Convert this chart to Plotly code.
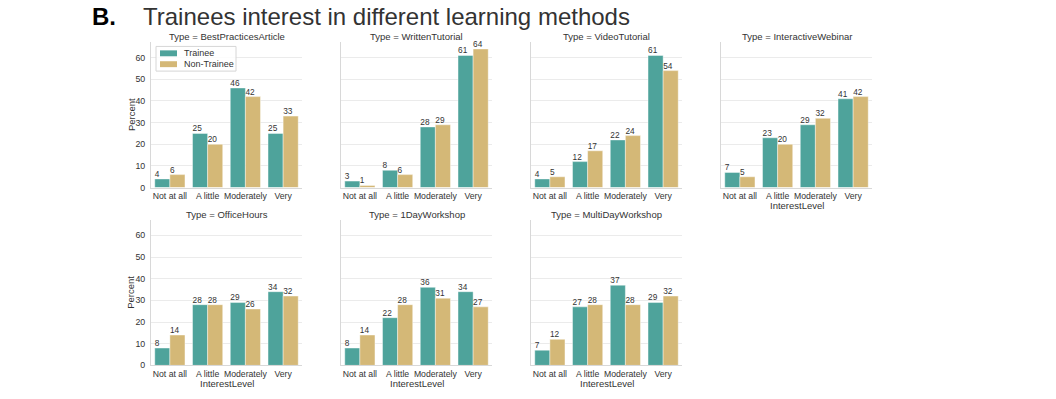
import plotly.graph_objects as go

W, H = 1056, 399

levels = ["Not at all", "A little", "Moderately", "Very"]
types = ["BestPracticesArticle", "WrittenTutorial", "VideoTutorial", "InteractiveWebinar",
         "OfficeHours", "1DayWorkshop", "MultiDayWorkshop"]

trainee = {
    "BestPracticesArticle": [4, 25, 46, 25],
    "WrittenTutorial": [3, 8, 28, 61],
    "VideoTutorial": [4, 12, 22, 61],
    "InteractiveWebinar": [7, 23, 29, 41],
    "OfficeHours": [8, 28, 29, 34],
    "1DayWorkshop": [8, 22, 36, 34],
    "MultiDayWorkshop": [7, 27, 37, 29],
}
non_trainee = {
    "BestPracticesArticle": [6, 20, 42, 33],
    "WrittenTutorial": [1, 6, 29, 64],
    "VideoTutorial": [5, 17, 24, 54],
    "InteractiveWebinar": [5, 20, 32, 42],
    "OfficeHours": [14, 28, 26, 32],
    "1DayWorkshop": [14, 28, 31, 27],
    "MultiDayWorkshop": [12, 28, 28, 32],
}
y_ticks = [0, 10, 20, 30, 40, 50, 60]
series_names = ["Trainee", "Non-Trainee"]

TEAL = "#4ea39b"
GOLD = "#d4b877"
TXT = "#333333"
FONT = "Liberation Sans, Arial, sans-serif"

fig = go.Figure()


def px_x(p):
    return p / W


def px_y(p):
    return (H - p) / H


idx = list(range(len(levels)))
annotations = []
shapes = []
for k, t in enumerate(types):
    row, col = divmod(k, 4)
    n = k + 1
    xa = "x" if n == 1 else f"x{n}"
    ya = "y" if n == 1 else f"y{n}"
    x0 = 151 + 190 * col
    x1 = x0 + 151
    if row == 0:
        ytop, ybot = 43, 190
    else:
        ytop, ybot = 223, 370
    for vals, name, color, shift in ((trainee[t], series_names[0], TEAL, -0.4),
                                     (non_trainee[t], series_names[1], GOLD, 0.0)):
        fig.add_trace(go.Bar(x=idx, y=vals, name=name, marker_color=color,
                             marker_line=dict(color="rgba(255,255,255,0.7)", width=0.6),
                             xaxis=xa, yaxis=ya, showlegend=False))
        # value labels, left-aligned at each bar's left edge
        fig.add_trace(go.Scatter(x=[i + shift for i in idx], y=vals, mode="text",
                                 text=[f"{v:.0f}" for v in vals], textposition="top right",
                                 textfont=dict(size=8.3, color=TXT, family=FONT),
                                 xaxis=xa, yaxis=ya, showlegend=False, hoverinfo="skip",
                                 cliponaxis=False))
    xkey = "xaxis" if n == 1 else f"xaxis{n}"
    ykey = "yaxis" if n == 1 else f"yaxis{n}"
    fig.layout[xkey] = dict(domain=[px_x(x0), px_x(x1)], anchor=ya, range=[-0.5, 3.5],
                            tickvals=idx, ticktext=levels, showgrid=False, zeroline=False,
                            showline=True, linecolor="#d8d8d8", linewidth=1, ticks="",
                            tickfont=dict(size=8.7, color=TXT, family=FONT))
    fig.layout[ykey] = dict(domain=[px_y(ybot), px_y(ytop)], anchor=xa, range=[0, 67],
                            tickvals=y_ticks, showticklabels=(col == 0), showgrid=True,
                            gridcolor="#ebebeb", gridwidth=1, zeroline=False,
                            showline=True, linecolor="#d8d8d8", linewidth=1, ticks="",
                            ticklabelstandoff=3,
                            tickfont=dict(size=8.8, color=TXT, family=FONT))
    annotations.append(dict(text=f"Type = {t}", x=px_x((x0 + x1) / 2), y=px_y(ytop - 6),
                            xref="paper", yref="paper", xanchor="center", yanchor="middle",
                            showarrow=False, font=dict(size=9.5, color=TXT, family=FONT)))
    if col == 0:
        annotations.append(dict(text="Percent", x=px_x(131), y=px_y((ytop + ybot) / 2),
                                xref="paper", yref="paper", xanchor="center", yanchor="middle",
                                textangle=-90, showarrow=False,
                                font=dict(size=9.5, color=TXT, family=FONT)))
    if row == 1 or k == 3:
        annotations.append(dict(text="InterestLevel", x=px_x((x0 + x1) / 2), y=px_y(ybot + 18),
                                xref="paper", yref="paper", xanchor="center", yanchor="middle",
                                showarrow=False, font=dict(size=9.5, color=TXT, family=FONT)))

# legend (drawn to match the compact matplotlib legend box)
shapes.append(dict(type="rect", xref="paper", yref="paper",
                   x0=px_x(156), x1=px_x(236), y0=px_y(72), y1=px_y(47),
                   line=dict(color="#d6d6d6", width=1), fillcolor="rgba(255,255,255,0.85)",
                   layer="above"))
for j, (name, color) in enumerate(zip(series_names, [TEAL, GOLD])):
    yc = 54 + 11 * j
    shapes.append(dict(type="rect", xref="paper", yref="paper",
                       x0=px_x(160), x1=px_x(177), y0=px_y(yc + 3), y1=px_y(yc - 3),
                       line=dict(width=0), fillcolor=color, layer="above"))
    annotations.append(dict(text=name, x=px_x(182), y=px_y(yc), xref="paper", yref="paper",
                            xanchor="left", yanchor="middle", showarrow=False,
                            font=dict(size=9, color=TXT, family=FONT)))

annotations.append(dict(text="<b>B.</b>", x=px_x(90), y=px_y(17), xref="paper", yref="paper",
                        xanchor="left", yanchor="middle", showarrow=False,
                        font=dict(size=24, color="#000000", family=FONT)))
annotations.append(dict(text="Trainees interest in different learning methods", x=px_x(141),
                        y=px_y(16.5), xref="paper", yref="paper", xanchor="left", yanchor="middle",
                        showarrow=False, font=dict(size=24, color="#333333", family=FONT)))

fig.update_layout(
    width=W, height=H, margin=dict(l=0, r=0, t=0, b=0),
    paper_bgcolor="white", plot_bgcolor="white",
    barmode="group", bargap=0.2, bargroupgap=0,
    annotations=annotations, shapes=shapes,
    font=dict(family=FONT, color=TXT),
    showlegend=False,
)

fig.write_html("out.html", config={"displayModeBar": False},
               post_script="document.body.style.margin='0px';document.body.style.overflow='hidden';")
